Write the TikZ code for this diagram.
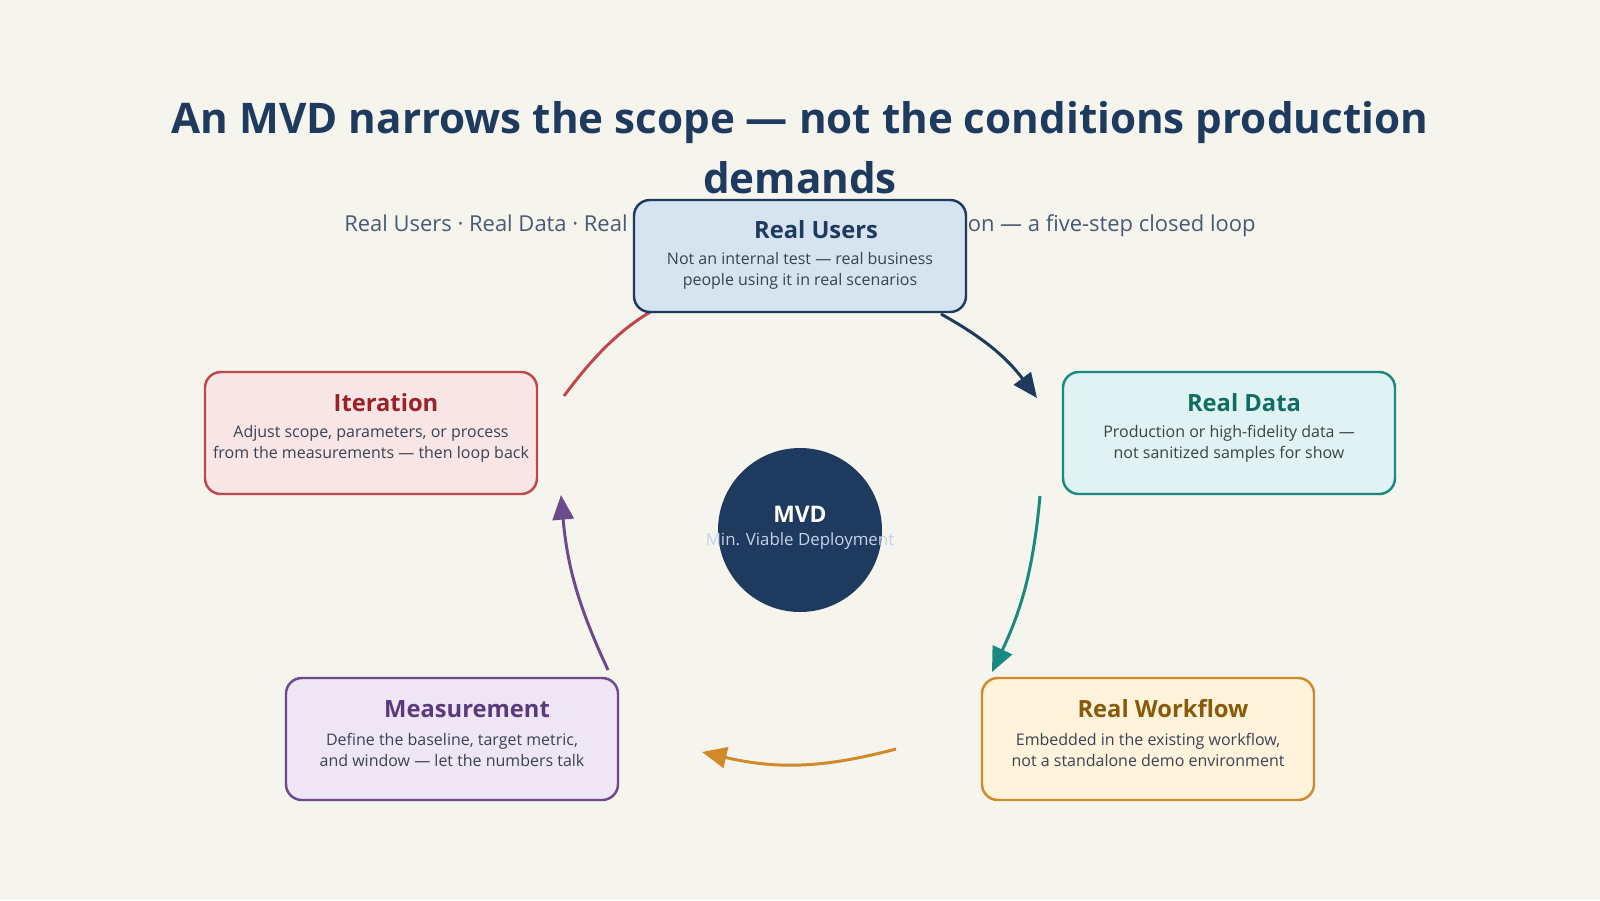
\documentclass[tikz,border=0pt]{standalone}
\usepackage{fontspec}
\setmainfont{Open Sans}
\usetikzlibrary{arrows.meta}
\definecolor{bg}{HTML}{F5F4ED}
\definecolor{navy}{HTML}{1E3A5F}
\definecolor{sub}{HTML}{4A5A75}
\definecolor{txt}{HTML}{3A4252}
\definecolor{uF}{HTML}{D6E4F0}\definecolor{uB}{HTML}{1E3A5F}\definecolor{uT}{HTML}{1E3A5F}
\definecolor{iF}{HTML}{F8E6E6}\definecolor{iB}{HTML}{C0474D}\definecolor{iT}{HTML}{9B2226}
\definecolor{dF}{HTML}{E0F2F1}\definecolor{dB}{HTML}{1A8A80}\definecolor{dT}{HTML}{0F6E64}
\definecolor{wF}{HTML}{FFF3DC}\definecolor{wB}{HTML}{D08A2A}\definecolor{wT}{HTML}{8A5A0B}
\definecolor{mF}{HTML}{EFE6F5}\definecolor{mB}{HTML}{6B4A8E}\definecolor{mT}{HTML}{5A3A7E}
\definecolor{msub}{HTML}{C5D3EA}
\begin{document}
\begin{tikzpicture}[x=0.02cm,y=-0.02cm,
  box/.style={draw, line width=1.4pt, rounded corners=9pt, minimum width=332*0.02cm, minimum height=122*0.02cm},
  ttl/.style={font=\bfseries\fontsize{13.5}{16}\selectfont},
  desc/.style={font=\fontsize{9.1}{11.8}\selectfont, text=txt, align=center},
  arr/.style={line width=1.7pt, -{Triangle[length=14pt,width=12pt]}}]
\fill[bg] (0,0) rectangle (1600,900);
\node[font=\bfseries\fontsize{24}{34}\selectfont, text=navy, align=center] (title) at (800,148) {An MVD narrows the scope — not the conditions production\\demands};
\node[font=\fontsize{12.5}{14}\selectfont, text=sub] (subt) at (800,226) {Real Users · Real Data · Real Workflow · Measurement · Iteration — a five-step closed loop};
% arrows
\coordinate (a1) at (941,314); \coordinate (a2) at (1037,398);
\coordinate (b1) at (1040,496); \coordinate (b2) at (992,672);
\coordinate (c1) at (896,749); \coordinate (c2) at (702,752);
\coordinate (d1) at (608,670); \coordinate (d2) at (561,495);
\coordinate (e1) at (564,396); \coordinate (e2) at (690,292);
\draw[arr, uB] (a1) to[bend left=12] (a2);
\draw[arr, dB] (b1) to[bend left=10] (b2);
\draw[arr, wB] (c1) to[bend left=14] (c2);
\draw[arr, mB] (d1) to[bend left=10] (d2);
\draw[arr, iB] (e1) to[bend left=14] (e2);
% circle
\node[circle, fill=navy, minimum size=164*0.02cm] (mvd) at (800,530) {};
\node[font=\bfseries\fontsize{13}{14}\selectfont, text=white] (mvdt) at (800,514) {MVD};
\node[font=\fontsize{9.6}{12}\selectfont, text=msub] (mvds) at (800,541) {Min. Viable Deployment};
% boxes
\node[box, draw=uB, fill=uF, minimum height=112*0.02cm] (users) at (800,256) {};
\node[ttl, text=uT] at (816,230) {Real Users};
\node[desc] at (800,271) {Not an internal test — real business\\people using it in real scenarios};
\node[box, draw=iB, fill=iF] (iter) at (371,433) {};
\node[ttl, text=iT] at (386,403) {Iteration};
\node[desc] at (371,444) {Adjust scope, parameters, or process\\from the measurements — then loop back};
\node[box, draw=dB, fill=dF] (data) at (1229,433) {};
\node[ttl, text=dT] at (1244,403) {Real Data};
\node[desc] at (1229,444) {Production or high-fidelity data —\\not sanitized samples for show};
\node[box, draw=wB, fill=wF] (work) at (1148,739) {};
\node[ttl, text=wT] at (1163,709) {Real Workflow};
\node[desc] at (1148,750) {Embedded in the existing workflow,\\not a standalone demo environment};
\node[box, draw=mB, fill=mF] (meas) at (452,739) {};
\node[ttl, text=mT] at (467,709) {Measurement};
\node[desc] at (452,750) {Define the baseline, target metric,\\and window — let the numbers talk};
\end{tikzpicture}
\end{document}
